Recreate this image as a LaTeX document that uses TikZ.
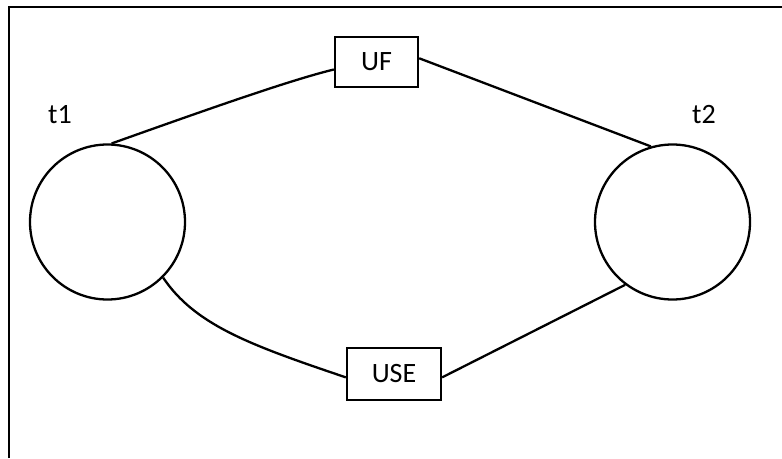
\documentclass[tikz,border=0pt]{standalone}
\usepackage{fontspec}
\setmainfont{Carlito}
\newcommand{\boxtext}[1]{\raisebox{-2.5pt}{#1}\hspace{12pt}}
\begin{document}
\begin{tikzpicture}[x=1pt,y=-1pt,
  line width=2.3pt,
  state/.style={draw,circle,minimum size=155pt,inner sep=0pt},
  box/.style={draw,rectangle,inner sep=0pt,font=\fontsize{28}{32}\selectfont},
  lbl/.style={font=\fontsize{28}{32}\selectfont,inner sep=0pt},
  link/.style={line width=2.3pt}]
  \useasboundingbox (0,0) rectangle (782,458);
  % frame: top and left edges
  \draw (9,458) -- (9,7) -- (782,7);
  % the two states
  \node[state] (t1c) at (107.5,222) {};
  \node[state] (t2c) at (672.5,222) {};
  \node[lbl] (t1) at (60,115) {t1};
  \node[lbl] (t2) at (704,115) {t2};
  % transitions
  \node[box,minimum width=83pt,minimum height=50pt] (uf) at (376.5,62) {\boxtext{UF}};
  \node[box,minimum width=94pt,minimum height=52pt] (use) at (394,374) {\boxtext{USE}};
  % connectors
  \draw[link] (t1c.87) .. controls (200,112) and (290,80) .. (uf.190);
  \draw[link] (uf.5) -- (t2c.106);
  \draw[link] (t1c.-45) .. controls (195,325) and (250,345) .. (use.184);
  \draw[link] (use.-4) -- (t2c.233);
\end{tikzpicture}
\end{document}
